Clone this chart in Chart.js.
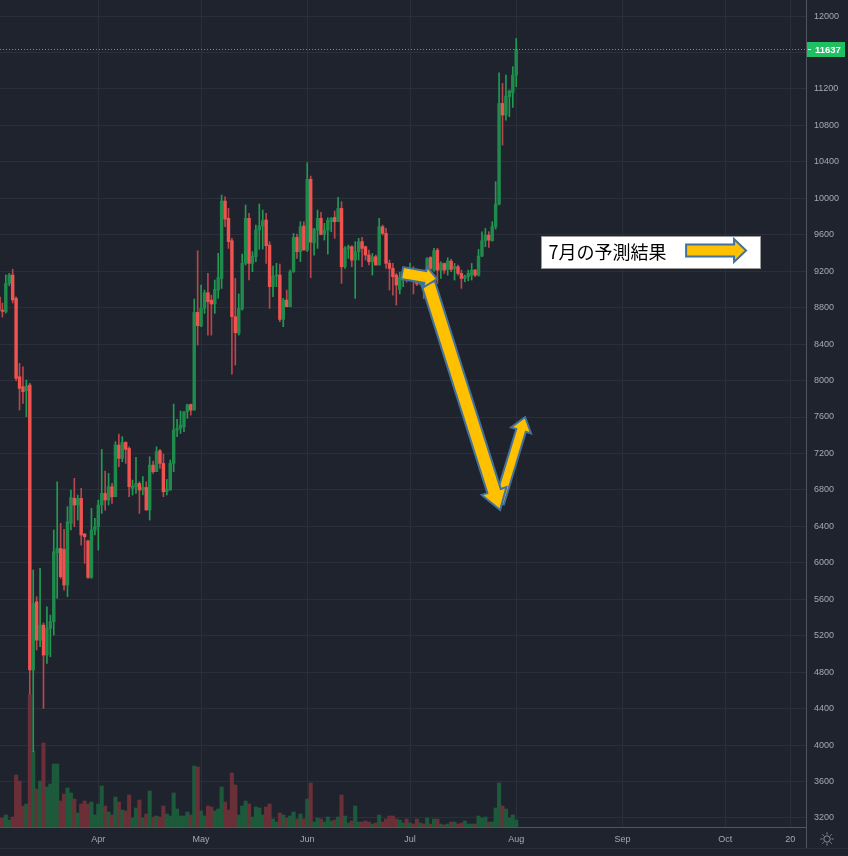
<!DOCTYPE html>
<html>
<head>
<meta charset="utf-8">
<script src="https://cdn.jsdelivr.net/npm/chart.js@4.4.0/dist/chart.umd.min.js"></script>
<style>
  html, body { margin: 0; padding: 0; background: #1e232d; }
  canvas { display: block; }
</style>
</head>
<body>
<canvas id="chart" width="848" height="856"></canvas>
<script>
// day 0 = 1 Mar 2020, first candle is 3 Mar
const firstDay = 2;

// daily candles, Mar 3 .. Aug 1
const opens = [
  // Mar
  8917, 8774, 8755, 9066, 9158, 8902, 8042, 7932, 7888, 7951, 4823, 5573, 5152, 5317, 4988,
  5280, 5354, 6111, 6158, 6147, 5756, 6433, 6707, 6634, 6707, 6316, 6240, 5840, 6360,
  // Apr
  6396, 6634, 6762, 6689, 6835, 6725, 7292, 7146, 7321, 7255, 6817, 6835, 6871, 6798, 6827,
  6579, 7072, 7000, 7230, 7091, 6780, 6798, 7091, 7457, 7475, 7493, 7658, 7738, 7676, 8748,
  // May
  8598, 8792, 8964, 8883, 8840, 8993, 9121, 9970, 9780, 9535, 8701, 8518, 8785, 9286, 9780,
  9286, 9359, 9652, 9696, 9762, 9487, 9030, 9147, 9158, 8671, 8883, 8810, 9194, 9571, 9414, 9696,
  // Jun
  9432, 10208, 9510, 9651, 9780, 9604, 9651, 9743, 9790, 9743, 9889, 9249, 9450, 9469, 9322,
  9414, 9524, 9469, 9377, 9304, 9359, 9268, 9688, 9615, 9286, 9231, 9158, 9000, 9130, 9190,
  // Jul
  9140, 9230, 9090, 9060, 9130, 9080, 9351, 9212, 9432, 9212, 9285, 9220, 9311, 9230, 9249,
  9176, 9121, 9139, 9157, 9212, 9157, 9366, 9534, 9596, 9534, 9688, 9937, 11041, 10913, 11115, 11160,
  // Aug
  11352
];
const highs = [
  8950, 8851, 9158, 9176, 9220, 8920, 8189, 8152, 8006, 7970, 5921, 5628, 5939, 5340, 5518,
  5427, 6360, 6890, 6433, 6367, 6616, 6799, 6927, 6744, 6817, 6323, 6250, 6597, 6488,
  6688, 7245, 7007, 6981, 6872, 7329, 7413, 7384, 7329, 7274, 6908, 7157, 6890, 6945, 6890,
  7164, 7117, 7274, 7245, 7193, 6915, 7128, 7742, 7574, 7665, 7658, 7742, 7742, 8894, 9425,
  9048, 8993, 9176, 8938, 9103, 9396, 10036, 10017, 9889, 9560, 9121, 8950, 9388, 9926, 9835,
  9414, 9707, 9937, 9871, 9835, 9524, 9257, 9286, 9279, 8902, 8993, 9213, 9615, 9608, 9743, 9743,
  10391, 10244, 9670, 9871, 9845, 9725, 9787, 9790, 9860, 10010, 9963, 9469, 9487, 9480, 9524,
  9560, 9571, 9476, 9432, 9395, 9377, 9780, 9706, 9670, 9322, 9286, 9176, 9190, 9230, 9200,
  9290, 9250, 9120, 9190, 9150, 9350, 9360, 9450, 9450, 9304, 9290, 9348, 9329, 9285, 9267,
  9212, 9157, 9212, 9285, 9220, 9439, 9633, 9669, 9633, 9743, 10182, 11378, 11261, 11352, 11188, 11444,
  11754
];
const lows = [
  8700, 8697, 8740, 9040, 8851, 8000, 7676, 7750, 7603, 4560, 3927, 5043, 5079, 4403, 4896,
  4969, 5207, 5610, 5829, 5701, 5628, 6360, 6396, 6469, 6195, 5994, 5829, 5829, 6305,
  6140, 6542, 6579, 6634, 6652, 6725, 7054, 7109, 7091, 6725, 6744, 6762, 6542, 6744, 6579,
  6469, 6981, 7000, 7036, 6725, 6744, 6798, 7000, 7384, 7420, 7439, 7585, 7621, 7676, 8390,
  8591, 8737, 8499, 8499, 8737, 8902, 9011, 9688, 9450, 8071, 8170, 8499, 8774, 9268, 9103,
  9194, 9304, 9440, 9443, 9286, 8792, 8920, 9030, 8646, 8591, 8810, 8810, 9187, 9341, 9304, 9432,
  9414, 9128, 9377, 9450, 9597, 9542, 9388, 9633, 9560, 9743, 9066, 9231, 9341, 9249, 8902,
  9322, 9249, 9322, 9268, 9158, 9268, 9268, 9597, 9231, 8993, 8938, 8828, 8950, 9030, 9080,
  9100, 8950, 9040, 9050, 8900, 9060, 9200, 9200, 9066, 9121, 9176, 9157, 9194, 9103, 9157,
  9011, 9084, 9095, 9103, 9139, 9146, 9359, 9468, 9461, 9530, 9662, 9926, 10584, 10858, 10895, 10997,
  11224
];
const closes = [
  8774, 8760, 9066, 9158, 8884, 8024, 7914, 7877, 7940, 4824, 5555, 5152, 5317, 4988, 5280,
  5354, 6122, 6158, 5848, 5756, 6451, 6718, 6634, 6707, 6305, 6286, 5840, 6360, 6396,
  6634, 6762, 6689, 6835, 6725, 7292, 7146, 7321, 7245, 6835, 6842, 6871, 6798, 6827, 6579,
  7072, 7000, 7219, 7091, 6780, 6809, 7091, 7457, 7475, 7512, 7658, 7731, 7676, 8748, 8602,
  8792, 8964, 8865, 8840, 9001, 9129, 9970, 9772, 9524, 8701, 8525, 8792, 9286, 9780, 9286,
  9366, 9652, 9696, 9754, 9480, 9030, 9147, 9158, 8671, 8883, 8810, 9194, 9571, 9414, 9688, 9432,
  10208, 9520, 9659, 9780, 9604, 9651, 9760, 9780, 9743, 9889, 9249, 9450, 9469, 9322, 9414,
  9524, 9450, 9377, 9304, 9359, 9268, 9688, 9615, 9286, 9231, 9140, 9048, 9130, 9190, 9140,
  9230, 9090, 9060, 9130, 9080, 9340, 9230, 9424, 9212, 9285, 9212, 9311, 9220, 9249, 9176,
  9121, 9146, 9176, 9212, 9157, 9366, 9534, 9596, 9541, 9688, 9937, 11041, 10913, 11122, 11177, 11352,
  11637
];
// relative volume
const volumes = [
  9, 9, 12, 7, 10, 52, 46, 21, 23, 133, 76, 38, 46, 84, 40,
  43, 63, 63, 26, 33, 39, 34, 28, 14, 23, 26, 23, 25, 12,
  23, 41, 21, 15, 12, 30, 25, 17, 16, 32, 9, 19, 27, 9, 13,
  36, 10, 11, 10, 21, 13, 11, 34, 18, 11, 11, 15, 12, 61, 60,
  16, 11, 21, 20, 16, 18, 40, 25, 17, 54, 42, 12, 21, 26, 23,
  10, 20, 19, 12, 20, 23, 8, 5, 14, 12, 9, 11, 15, 8, 13, 8,
  28, 44, 5, 9, 8, 5, 10, 6, 7, 10, 32, 11, 4, 6, 21,
  5, 5, 6, 5, 3, 4, 12, 5, 8, 11, 11, 8, 7, 4, 8,
  4, 3, 8, 4, 3, 9, 3, 8, 8, 3, 2, 3, 5, 5, 3,
  4, 6, 3, 3, 3, 11, 9, 10, 5, 5, 19, 44, 21, 18, 9, 12,
  7
];

const monthDays = [31, 61, 92, 122, 153, 184, 214, 233];
const monthLabels = ['Apr', 'May', 'Jun', 'Jul', 'Aug', 'Sep', 'Oct', '20'];
const priceTicks = [3200, 3600, 4000, 4400, 4800, 5200, 5600, 6000, 6400, 6800, 7200, 7600,
  8000, 8400, 8800, 9200, 9600, 10000, 10400, 10800, 11200, 11600, 12000];

const noteText = '7月の予測結果';

const BG = '#1e232d';
const GRID = '#2a303b';
const AXIS = '#4f545e';
const LABEL = '#a6a9b1';
const UP = '#1f8a4c', DOWN = '#ef5350';
const UP_WICK = '#239a52', DOWN_WICK = '#b9464d';
const UP_VOL = '#1d5a3c', DOWN_VOL = '#6b2f38';
const LAST = '#1fbf62';

const days = opens.map((o, i) => firstDay + i);
const isUp = closes.map((c, i) => c >= opens[i]);

function blockArrow(ctx, x1, y1, x2, y2, shaft, headW, headL) {
  const dx = x2 - x1, dy = y2 - y1, len = Math.hypot(dx, dy);
  const ux = dx / len, uy = dy / len, nx = -uy, ny = ux;
  const bx = x2 - ux * headL, by = y2 - uy * headL;
  const pts = [
    [x1 + nx * shaft / 2, y1 + ny * shaft / 2],
    [bx + nx * shaft / 2, by + ny * shaft / 2],
    [bx + nx * headW / 2, by + ny * headW / 2],
    [x2, y2],
    [bx - nx * headW / 2, by - ny * headW / 2],
    [bx - nx * shaft / 2, by - ny * shaft / 2],
    [x1 - nx * shaft / 2, y1 - ny * shaft / 2]
  ];
  ctx.beginPath();
  pts.forEach((p, i) => i ? ctx.lineTo(p[0], p[1]) : ctx.moveTo(p[0], p[1]));
  ctx.closePath();
  ctx.fillStyle = '#ffc000';
  ctx.fill();
  ctx.lineWidth = 2;
  ctx.lineJoin = 'miter';
  ctx.strokeStyle = '#41719c';
  ctx.stroke();
}

// annotation arrows, in (day, price)
const arrows = [
  { from: [148.0, 6656], to: [155.6, 7600], shaft: 10, headW: 21, headL: 14 },
  { from: [127.3, 9070], to: [148.3, 6579], shaft: 14, headW: 26, headL: 20 },
  { from: [119.7, 9180], to: [129.9, 9114], shaft: 12, headW: 21, headL: 12 }
];

const overlay = {
  id: 'overlay',
  beforeDraw(chart) {
    const ctx = chart.ctx;
    ctx.save();
    ctx.fillStyle = BG;
    ctx.fillRect(0, 0, chart.width, chart.height);
    ctx.restore();
  },
  afterDatasetsDraw(chart) {
    const ctx = chart.ctx, y = chart.scales.y, area = chart.chartArea;
    const last = closes[closes.length - 1];
    const py = Math.round(y.getPixelForValue(last)) + 0.5;
    ctx.save();
    ctx.strokeStyle = LAST;
    ctx.lineWidth = 1;
    ctx.setLineDash([1, 2]);
    ctx.beginPath();
    ctx.moveTo(area.left, py);
    ctx.lineTo(area.right, py);
    ctx.stroke();
    ctx.restore();
  },
  afterDraw(chart) {
    const ctx = chart.ctx, x = chart.scales.x, y = chart.scales.y, area = chart.chartArea;
    const px = (d) => x.getPixelForValue(d);
    const py = (p) => y.getPixelForValue(p);
    ctx.save();

    // last price tag
    const last = closes[closes.length - 1];
    const ly = Math.round(py(last));
    ctx.fillStyle = LAST;
    ctx.fillRect(area.right + 1, ly - 7, chart.width - area.right - 4, 15);
    ctx.fillStyle = '#ffffff';
    ctx.fillRect(area.right + 2, ly, 3, 1);
    ctx.font = 'bold 9.5px "Liberation Sans", Arial, sans-serif';
    ctx.textAlign = 'left';
    ctx.textBaseline = 'middle';
    ctx.fillText(String(last), area.right + 9, ly + 1);

    // bottom strip
    ctx.fillStyle = GRID;
    ctx.fillRect(0, chart.height - 8, chart.width, 1);
    ctx.fillStyle = AXIS;
    ctx.fillRect(Math.round(area.right), area.bottom, 1, chart.height - 8 - area.bottom);

    // settings icon
    const gx = area.right + 21, gy = area.bottom + 12;
    ctx.strokeStyle = '#8d9099';
    ctx.lineWidth = 1;
    ctx.beginPath();
    ctx.arc(gx, gy, 3.2, 0, Math.PI * 2);
    ctx.stroke();
    for (let k = 0; k < 8; k++) {
      const a = k * Math.PI / 4;
      ctx.beginPath();
      ctx.moveTo(gx + Math.cos(a) * 4.6, gy + Math.sin(a) * 4.6);
      ctx.lineTo(gx + Math.cos(a) * 6.6, gy + Math.sin(a) * 6.6);
      ctx.stroke();
    }

    // arrows
    arrows.forEach(a => blockArrow(ctx, px(a.from[0]), py(a.from[1]), px(a.to[0]), py(a.to[1]), a.shaft, a.headW, a.headL));

    // note box
    const bx1 = Math.round(px(160.25)) + 0.5, by1 = Math.round(py(9586)) + 0.5;
    const bx2 = Math.round(px(224.2)) + 0.5, by2 = Math.round(py(9235)) + 0.5;
    ctx.fillStyle = '#ffffff';
    ctx.fillRect(bx1, by1, bx2 - bx1, by2 - by1);
    ctx.strokeStyle = '#9a9a9a';
    ctx.lineWidth = 1;
    ctx.strokeRect(bx1, by1, bx2 - bx1, by2 - by1);
    ctx.fillStyle = '#000000';
    ctx.font = '18px "Noto Sans CJK JP", sans-serif';
    ctx.textAlign = 'left';
    ctx.textBaseline = 'middle';
    ctx.fillText(noteText, bx1 + 7, (by1 + by2) / 2);
    const ay = py(9427);
    blockArrow(ctx, px(202.6), ay, px(220.1), ay, 12, 23, 12);

    ctx.restore();
  }
};

const tickFont = { family: '"Liberation Sans", Arial, sans-serif', size: 9 };

new Chart(document.getElementById('chart'), {
  type: 'bar',
  data: {
    datasets: [
      {
        label: 'volume',
        yAxisID: 'yVol',
        order: 3,
        grouped: false,
        data: volumes.map((v, i) => ({ x: days[i], y: v })),
        backgroundColor: isUp.map(u => u ? UP_VOL : DOWN_VOL),
        barPercentage: 1,
        categoryPercentage: 1
      },
      {
        label: 'wick',
        yAxisID: 'y',
        order: 2,
        grouped: false,
        data: lows.map((l, i) => ({ x: days[i], y: [l, highs[i]] })),
        backgroundColor: isUp.map(u => u ? UP_WICK : DOWN_WICK),
        barThickness: 1
      },
      {
        label: 'body',
        yAxisID: 'y',
        order: 1,
        grouped: false,
        data: opens.map((o, i) => ({ x: days[i], y: [Math.min(o, closes[i]), Math.max(o, closes[i])] })),
        backgroundColor: isUp.map(u => u ? UP : DOWN),
        barThickness: 2.8,
        minBarLength: 1
      }
    ]
  },
  options: {
    responsive: false,
    animation: false,
    devicePixelRatio: 1,
    layout: { padding: 0 },
    plugins: { legend: { display: false }, tooltip: { enabled: false } },
    scales: {
      x: {
        type: 'linear',
        min: 2.3,
        max: 237.6,
        offset: false,
        grid: { color: GRID, drawTicks: false, offset: false },
        border: { color: AXIS },
        ticks: {
          autoSkip: false,
          maxRotation: 0,
          padding: 7,
          color: LABEL,
          font: tickFont,
          callback: (v, i) => monthLabels[i]
        },
        afterBuildTicks: s => { s.ticks = monthDays.map(v => ({ value: v })); },
        afterFit: s => { s.height = 29; s.paddingLeft = 0; s.paddingRight = 0; }
      },
      y: {
        position: 'right',
        min: 3101,
        max: 12176,
        grid: { color: GRID, drawTicks: false },
        border: { color: AXIS },
        ticks: { padding: 8, color: LABEL, font: tickFont, callback: v => String(v) },
        afterBuildTicks: s => { s.ticks = priceTicks.map(v => ({ value: v })); },
        afterFit: s => { s.width = 42; s.paddingTop = 0; s.paddingBottom = 0; }
      },
      yVol: { display: false, min: 0, max: 827 }
    }
  },
  plugins: [overlay]
});
</script>
</body>
</html>
